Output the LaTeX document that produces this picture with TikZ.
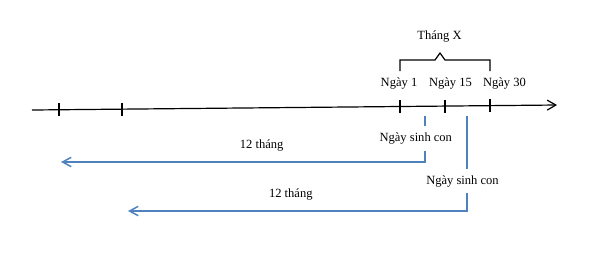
\documentclass[tikz,border=0pt]{standalone}
\usepackage{fontspec}
\setmainfont{Liberation Serif}
\usetikzlibrary{arrows.meta}
\definecolor{lineblue}{RGB}{79,129,189}

\begin{document}
\begin{tikzpicture}[
    x=0.75pt, y=-0.75pt,
    font=\fontsize{9.4}{11}\selectfont,
    axis/.style={-{Straight Barb[length=6.5pt, width=7.5pt]}, line width=0.9pt},
    tickmark/.style={line width=0.9pt},
    brace/.style={line width=0.9pt},
    span/.style={-{Straight Barb[length=6.5pt, width=7pt]}, draw=lineblue, line width=1.1pt},
    lbl/.style={anchor=base, inner sep=1pt},
    birth/.style={anchor=base, fill=white, inner xsep=1pt, inner ysep=5pt}
]
\useasboundingbox (0,0) rectangle (602,255);

% Trục thời gian
\coordinate (start) at (32,110);
\coordinate (end) at (557,105);
\draw[axis] (start) -- (end);
\foreach \x in {59,122,400,445,490}
    \draw[tickmark] (\x,{110-5*(\x-32)/525-6.5}) -- ++(0,13);

% Nhãn ngày
\node (d1) [lbl] at (399,86) {Ngày 1};
\node (d15) [lbl] at (450.5,86) {Ngày 15};
\node (d30) [lbl] at (504.5,86) {Ngày 30};

% Ngoặc tháng
\coordinate (bl) at (400,71);
\coordinate (br) at (490,71);
\draw[brace] (bl) -- (400,60) -- (435,60) -- (440,53) -- (445,60) -- (490,60) -- (br);
\node (month) [lbl] at (439.5,39.5) {Tháng X};

% Ngày sinh con
\coordinate (b1) at (425,116);
\coordinate (c1) at (425,162);
\coordinate (e1) at (61,162);
\draw[span] (b1) -- (c1) -- (e1);
\node (s1) [birth] at (415.8,141.7) {Ngày sinh con};
\node (m1) [lbl] at (261.7,148.3) {12 tháng};

\coordinate (b2) at (467,116);
\coordinate (c2) at (467,211);
\coordinate (e2) at (128,211);
\draw[span] (b2) -- (c2) -- (e2);
\node (s2) [birth] at (462.5,184) {Ngày sinh con};
\node (m2) [lbl] at (290.8,197.7) {12 tháng};

\end{tikzpicture}
\end{document}
